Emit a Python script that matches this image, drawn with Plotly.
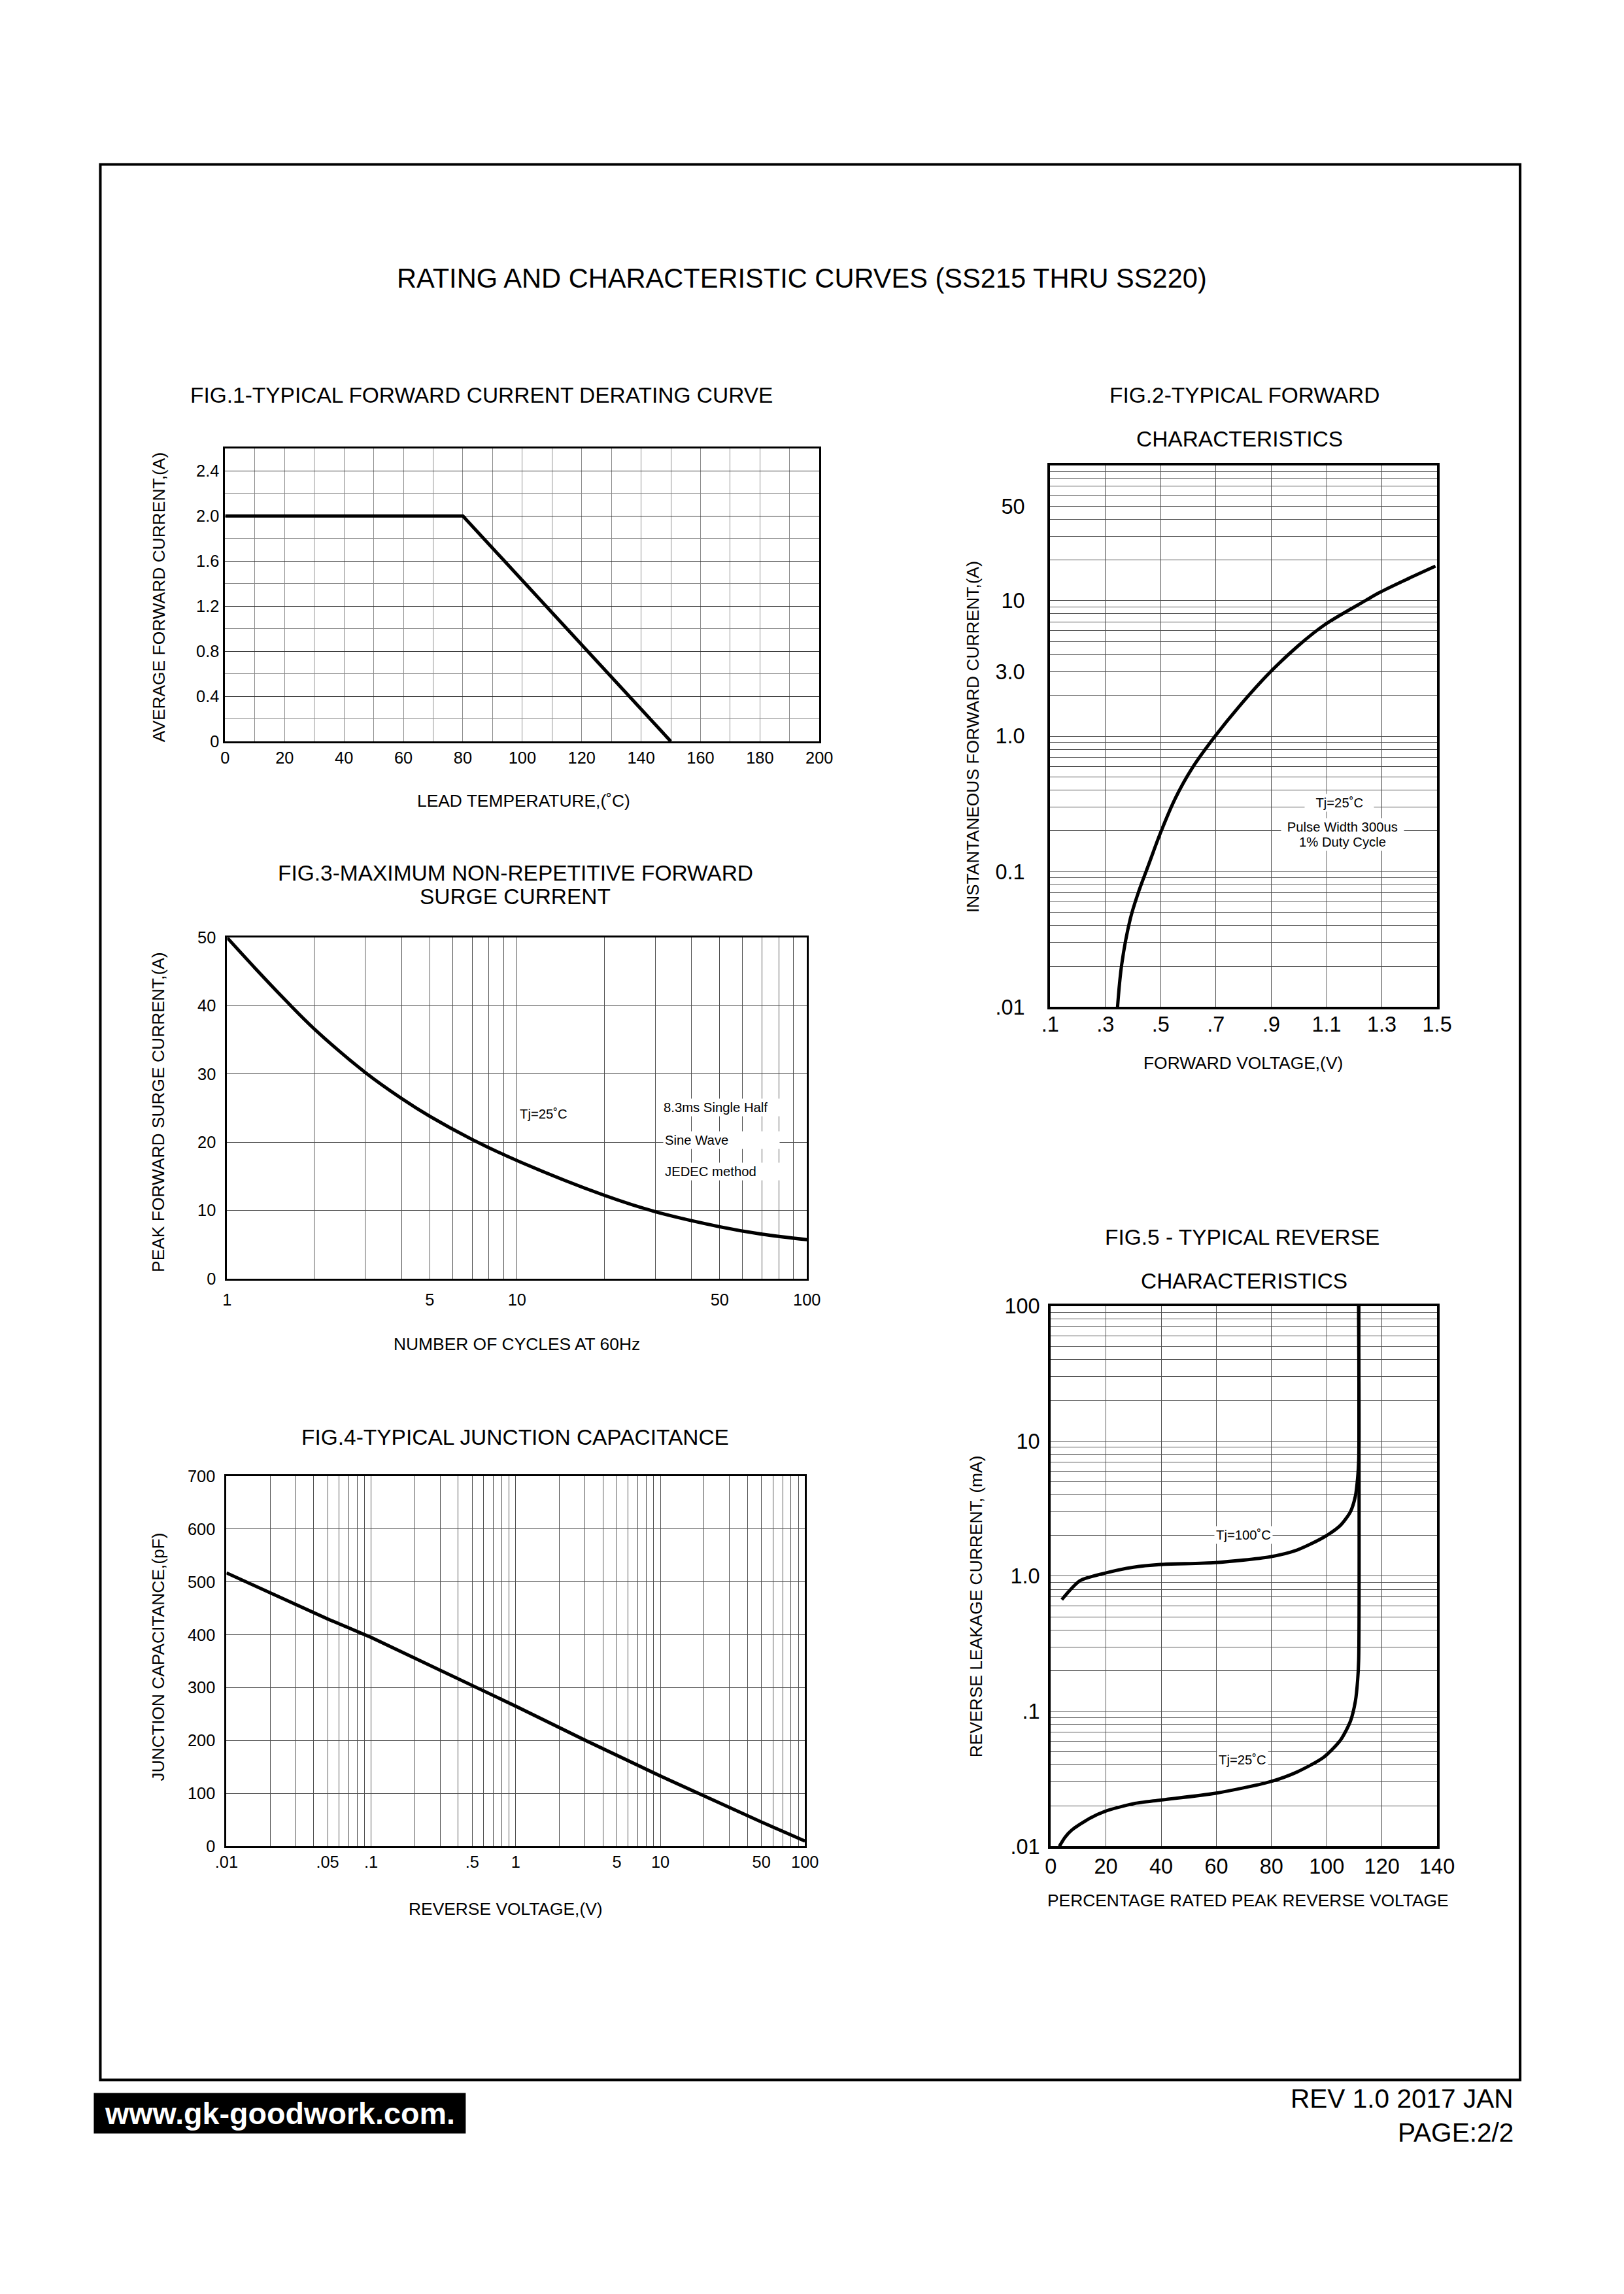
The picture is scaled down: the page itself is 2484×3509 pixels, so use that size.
import plotly.graph_objects as go

# the viewer shows the page with a small margin and a slight scale;
# page-pixel targets are mapped to figure pixels through these constants
SX, SY, MB = 0.982, 0.989, 26
W = round(2484 / SX - 2 * MB)
H = round(3509 / SY - 2 * MB)
SAVG = (SX + SY) / 2
FONT = "Liberation Sans, Arial, Helvetica, sans-serif"


def px(x):
    return (x / SX - MB) / W


def py(y):
    return 1 - (y / SY - MB) / H


def F(n):
    return n / SAVG


# ---------------- data ----------------
# Fig.1 forward current derating
fig1_temp = [0, 80, 150]
fig1_current = [2.0, 2.0, 0.0]
fig1_xticks = [0, 20, 40, 60, 80, 100, 120, 140, 160, 180, 200]
fig1_xminor = [10, 30, 50, 70, 90, 110, 130, 150, 170, 190]
fig1_yticks = [0, 0.4, 0.8, 1.2, 1.6, 2.0, 2.4]
fig1_ytext = ["0", "0.4", "0.8", "1.2", "1.6", "2.0", "2.4"]
fig1_yminor = [0.2, 0.6, 1.0, 1.4, 1.8, 2.2]

# Fig.2 typical forward characteristics
fig2_vf = [0.344, 0.359, 0.390, 0.420, 0.456, 0.500, 0.553, 0.613, 0.697, 0.782, 0.894, 0.999, 1.093, 1.240, 1.292, 1.397, 1.494]
fig2_if = [0.01, 0.0206, 0.0447, 0.0708, 0.112, 0.195, 0.348, 0.577, 1.0, 1.64, 2.94, 4.68, 6.64, 10.0, 11.5, 14.6, 18.0]
fig2_xticks = [0.1, 0.3, 0.5, 0.7, 0.9, 1.1, 1.3, 1.5]
fig2_xtext = [".1", ".3", ".5", ".7", ".9", "1.1", "1.3", "1.5"]
log_grid = [0.01, 0.02, 0.03, 0.04, 0.05, 0.06, 0.07, 0.08, 0.09,
            0.1, 0.2, 0.3, 0.4, 0.5, 0.6, 0.7, 0.8, 0.9,
            1, 2, 3, 4, 5, 6, 7, 8, 9,
            10, 20, 30, 40, 50, 60, 70, 80, 90, 100]
fig2_ytext = [".01", "", "", "", "", "", "", "", "",
              "0.1", "", "", "", "", "", "", "", "",
              "1.0", "", "3.0", "", "", "", "", "", "",
              "10", "", "", "", "50", "", "", "", "", ""]

# Fig.3 surge current
fig3_cycles = [1, 1.25, 1.6, 2, 3, 4, 5, 7, 10, 20, 30, 50, 70, 100]
fig3_current = [50, 45.5, 40.7, 36.6, 30.2, 26.4, 23.8, 20.4, 17.3, 12.2, 9.8, 7.6, 6.5, 5.7]
fig3_xticks = [1, 2, 3, 4, 5, 6, 7, 8, 9, 10, 20, 30, 40, 50, 60, 70, 80, 90, 100]
fig3_xtext = ["1", "", "", "", "5", "", "", "", "", "10", "", "", "", "50", "", "", "", "", "100"]
fig3_yticks = [0, 10, 20, 30, 40, 50]

# Fig.4 junction capacitance
fig4_volt = [0.01, 0.05, 0.1, 0.5, 1, 3, 5, 10, 50, 100]
fig4_cap = [517, 430, 395, 304, 265, 201, 172, 133, 46, 10]
fig4_xtext = [".01", "", "", "", ".05", "", "", "", "",
              ".1", "", "", "", ".5", "", "", "", "",
              "1", "", "", "", "5", "", "", "", "",
              "10", "", "", "", "50", "", "", "", "", "100"]
fig4_yticks = [0, 100, 200, 300, 400, 500, 600, 700]

# Fig.5 reverse characteristics
fig5_pct_100 = [4.0, 10.6, 19.1, 30.0, 39.7, 59.6, 79.3, 89.2, 98.9, 105.0, 108.6, 110.4, 111.2, 111.6, 111.6]
fig5_ir_100 = [0.671, 0.926, 1.047, 1.166, 1.22, 1.26, 1.39, 1.56, 1.94, 2.38, 3.0, 3.92, 5.33, 7.24, 100]
fig5_pct_25 = [3.1, 5.2, 7.6, 14.3, 19.7, 30.0, 39.7, 59.6, 79.3, 89.2, 98.9, 105.0, 108.6, 110.4, 111.2, 111.6, 111.6]
fig5_ir_25 = [0.01, 0.0117, 0.0132, 0.0162, 0.0182, 0.0207, 0.022, 0.0247, 0.030, 0.0355, 0.0457, 0.0612, 0.0845, 0.119, 0.169, 0.247, 100]
fig5_xticks = [0, 20, 40, 60, 80, 100, 120, 140]
fig5_ytext = [".01", "", "", "", "", "", "", "", "",
              ".1", "", "", "", "", "", "", "", "",
              "1.0", "", "", "", "", "", "", "", "",
              "10", "", "", "", "", "", "", "", "",
              "100"]

# ---------------- figure ----------------
fig = go.Figure()


def curve(smooth=None):
    d = dict(color="black", width=F(5))
    if smooth:
        d.update(shape="spline", smoothing=smooth)
    return d


fig.add_trace(go.Scatter(x=fig1_temp, y=fig1_current, mode="lines", line=curve(), xaxis="x", yaxis="y"))
fig.add_trace(go.Scatter(x=fig2_vf, y=fig2_if, mode="lines", line=curve(1.0), xaxis="x2", yaxis="y2"))
fig.add_trace(go.Scatter(x=fig3_cycles, y=fig3_current, mode="lines", line=curve(1.0), xaxis="x3", yaxis="y3"))
fig.add_trace(go.Scatter(x=fig4_volt, y=fig4_cap, mode="lines", line=curve(), xaxis="x4", yaxis="y4"))
fig.add_trace(go.Scatter(x=fig5_pct_100, y=fig5_ir_100, mode="lines", line=curve(0.7), xaxis="x5", yaxis="y5"))
fig.add_trace(go.Scatter(x=fig5_pct_25, y=fig5_ir_25, mode="lines", line=curve(0.7), xaxis="x5", yaxis="y5"))


def ax(domain, anchor, size, standoff, lw=4, grid="#505050", **kw):
    d = dict(domain=domain, anchor=anchor, showline=True, linecolor="black", linewidth=F(lw),
             mirror=True, ticks="", showgrid=True, gridcolor=grid, gridwidth=1.3,
             zeroline=False, fixedrange=True, ticklabelstandoff=round(F(standoff)),
             tickfont=dict(family=FONT, size=F(size), color="black"))
    d.update(kw)
    return d


# plot boxes in page pixels: (left, right, top, bottom)
B1 = (344, 1253, 685, 1133)
B2 = (1606, 2198, 711, 1539)
B3 = (347, 1234, 1433, 1954)
B4 = (346, 1231, 2256, 2822)
B5 = (1607, 2198, 1996, 2822)


def xd(b):
    return [px(b[0]), px(b[1])]


def yd(b):
    return [py(b[3]), py(b[2])]


fig.update_layout(
    xaxis=ax(xd(B1), "y", 25, 0, lw=3, grid="#8a8a8a", range=[0, 200], tickmode="array", tickvals=fig1_xticks,
             minor=dict(tickmode="array", tickvals=fig1_xminor, showgrid=True, gridcolor="#8a8a8a", gridwidth=1.3, ticks="")),
    yaxis=ax(yd(B1), "x", 25, 1, lw=3, grid="#333333", range=[0, 2.6], tickmode="array", tickvals=fig1_yticks, ticktext=fig1_ytext,
             minor=dict(tickmode="array", tickvals=fig1_yminor, showgrid=True, gridcolor="#8a8a8a", gridwidth=1.3, ticks="")),
    xaxis2=ax(xd(B2), "y2", 32, -5, range=[0.1, 1.5], tickmode="array", tickvals=fig2_xticks, ticktext=fig2_xtext),
    yaxis2=ax(yd(B2), "x2", 32, 28, type="log", range=[-2, 2], tickmode="array", tickvals=log_grid, ticktext=fig2_ytext),
    xaxis3=ax(xd(B3), "y3", 25, 8, lw=3, type="log", range=[0, 2], tickmode="array", tickvals=fig3_xticks, ticktext=fig3_xtext),
    yaxis3=ax(yd(B3), "x3", 25, 9, lw=3, range=[0, 50], tickmode="array", tickvals=fig3_yticks),
    xaxis4=ax(xd(B4), "y4", 25, -1, lw=3, type="log", range=[-2, 2], tickmode="array", tickvals=log_grid, ticktext=fig4_xtext),
    yaxis4=ax(yd(B4), "x4", 25, 9, lw=3, range=[0, 700], tickmode="array", tickvals=fig4_yticks),
    xaxis5=ax(xd(B5), "y5", 32, -1, range=[0, 140], tickmode="array", tickvals=fig5_xticks),
    yaxis5=ax(yd(B5), "x5", 32, 6, type="log", range=[-2, 2], tickmode="array", tickvals=log_grid, ticktext=fig5_ytext),
)

ann = []


def text(x, y, s, size, angle=0, xanchor="center", bg=None, color="black", bold=False, width=None, align="center"):
    a = dict(x=px(x), y=py(y), xref="paper", yref="paper", text=("<b>%s</b>" % s if bold else s),
             showarrow=False, textangle=angle, xanchor=xanchor, yanchor="middle", align=align,
             font=dict(family=FONT, size=F(size), color=color))
    if bg:
        a["bgcolor"] = bg
        a["borderpad"] = 2
    if width:
        a["width"] = F(width)
    ann.append(a)


# main title
text(1226, 425, "RATING AND CHARACTERISTIC CURVES (SS215 THRU SS220)", 41)
# figure titles
text(736, 604, "FIG.1-TYPICAL FORWARD CURRENT DERATING CURVE", 33)
text(1903, 604, "FIG.2-TYPICAL FORWARD", 33)
text(1896, 671, "CHARACTERISTICS", 33)
text(788, 1334, "FIG.3-MAXIMUM NON-REPETITIVE FORWARD", 33)
text(788, 1370, "SURGE CURRENT", 33)
text(788, 2197, "FIG.4-TYPICAL JUNCTION CAPACITANCE", 33)
text(1900, 1891, "FIG.5 - TYPICAL REVERSE", 33)
text(1903, 1958, "CHARACTERISTICS", 33)
# axis titles
text(801, 1224, "LEAD TEMPERATURE,(˚C)", 26)
text(242, 912, "AVERAGE FORWARD CURRENT,(A)", 26, angle=-90)
text(1901, 1625, "FORWARD VOLTAGE,(V)", 26)
text(1488, 1126, "INSTANTANEOUS FORWARD CURRENT,(A)", 26, angle=-90)
text(790, 2054, "NUMBER OF CYCLES AT 60Hz", 26)
text(242, 1700, "PEAK FORWARD SURGE CURRENT,(A)", 26, angle=-90)
text(773, 2918, "REVERSE VOLTAGE,(V)", 26)
text(242, 2532, "JUNCTION CAPACITANCE,(pF)", 26, angle=-90)
text(1909, 2905, "PERCENTAGE RATED PEAK REVERSE VOLTAGE", 26)
text(1493, 2455, "REVERSE LEAKAGE CURRENT, (mA)", 26, angle=-90)
# in-plot notes
text(2048, 1227, "Tj=25˚C", 20, bg="white", width=100)
text(2053, 1264, "Pulse Width 300us", 20, bg="white", width=180)
text(2053, 1287, "1% Duty Cycle", 20, bg="white")
text(831, 1703, "Tj=25˚C", 20, bg="white")
text(1012, 1693, "8.3ms Single Half", 20, xanchor="left", bg="white", width=172, align="left")
text(1014, 1742, "Sine Wave", 20, xanchor="left", bg="white", width=170, align="left")
text(1014, 1790, "JEDEC method", 20, xanchor="left", bg="white", width=170, align="left")
text(1902, 2346, "Tj=100˚C", 20, bg="white")
text(1900, 2690, "Tj=25˚C", 20, bg="white")
# footer
text(428, 3230, "www.gk-goodwork.com.", 46, color="white", bold=True)
text(2317, 3207, "REV 1.0 2017 JAN", 40, xanchor="right")
text(2317, 3259, "PAGE:2/2", 40, xanchor="right")

shapes = [
    dict(type="rect", xref="paper", yref="paper", x0=px(153), x1=px(2325), y0=py(3179), y1=py(251),
         line=dict(color="black", width=F(4)), layer="below"),
    dict(type="rect", xref="paper", yref="paper", x0=px(143), x1=px(712), y0=py(3261), y1=py(3199),
         line=dict(width=0), fillcolor="black", layer="below"),
]

fig.update_layout(
    width=W, height=H, margin=dict(l=0, r=0, t=0, b=0),
    paper_bgcolor="white", plot_bgcolor="white", showlegend=False,
    annotations=ann, shapes=shapes,
    font=dict(family=FONT, color="black"),
)

fig.write_html("out.html")
